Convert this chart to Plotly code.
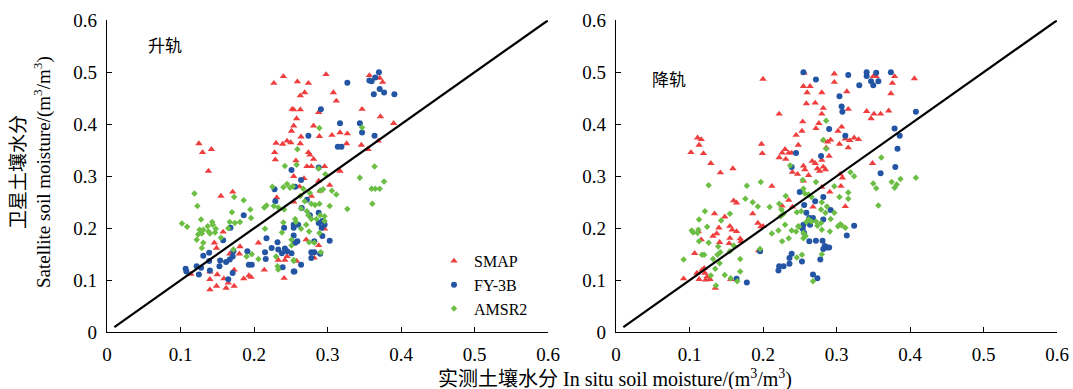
import plotly.graph_objects as go

# ---------------- data (in situ, satellite) ----------------
asc_smap = [(0.227,0.479),(0.240,0.492),(0.252,0.429),(0.254,0.397),(0.251,0.387),(0.230,0.364),(0.239,0.362),(0.245,0.368),(0.250,0.365),(0.228,0.346),(0.229,0.332),(0.125,0.363),(0.130,0.346),(0.142,0.352),(0.138,0.310),(0.171,0.270),(0.155,0.262),(0.158,0.193),(0.146,0.172),(0.149,0.162),(0.114,0.112),(0.140,0.116),(0.150,0.111),(0.140,0.102),(0.159,0.103),(0.165,0.095),(0.162,0.085),(0.173,0.089),(0.149,0.089),(0.140,0.082),(0.181,0.165),(0.180,0.151),(0.167,0.151),(0.173,0.120),(0.186,0.103),(0.196,0.106),(0.193,0.109),(0.206,0.172),(0.214,0.120),(0.241,0.104),(0.233,0.139),(0.242,0.139),(0.254,0.300),(0.231,0.259),(0.254,0.251),(0.245,0.146),
            (0.298,0.496),(0.259,0.482),(0.274,0.479),(0.269,0.461),(0.263,0.455),(0.308,0.461),(0.312,0.445),(0.254,0.428),(0.263,0.428),(0.288,0.423),(0.258,0.411),(0.357,0.494),(0.371,0.489),(0.375,0.481),(0.347,0.429),(0.372,0.415),(0.390,0.402),(0.281,0.397),(0.264,0.376),(0.289,0.377),(0.306,0.379),(0.317,0.384),(0.327,0.382),(0.263,0.363),(0.326,0.363),(0.355,0.352),(0.346,0.360),(0.369,0.368),(0.274,0.346),(0.276,0.341),(0.281,0.333),(0.272,0.319),(0.278,0.319),(0.296,0.319),(0.317,0.310),(0.257,0.330),(0.262,0.280),(0.268,0.296),(0.288,0.291),(0.303,0.283),(0.290,0.272),(0.278,0.262),(0.296,0.199),(0.288,0.167),(0.282,0.143),(0.258,0.137),(0.271,0.178)]

asc_fy3b = [(0.107,0.122),(0.108,0.117),(0.125,0.111),(0.122,0.127),(0.128,0.124),(0.131,0.147),(0.139,0.153),(0.139,0.137),(0.140,0.119),(0.153,0.127),(0.154,0.138),(0.162,0.135),(0.167,0.140),(0.171,0.146),(0.172,0.156),(0.171,0.114),(0.165,0.102),(0.168,0.201),(0.158,0.177),(0.186,0.225),(0.191,0.156),(0.193,0.130),(0.197,0.130),(0.215,0.154),(0.217,0.181),(0.232,0.173),(0.224,0.162),(0.216,0.141),(0.233,0.159),(0.238,0.152),(0.242,0.161),(0.245,0.156),(0.239,0.125),(0.251,0.152),(0.229,0.252),(0.228,0.275),(0.251,0.312),(0.254,0.201),(0.241,0.201),(0.254,0.117),
            (0.370,0.500),(0.357,0.484),(0.360,0.483),(0.365,0.490),(0.371,0.468),(0.377,0.461),(0.363,0.458),(0.391,0.458),(0.327,0.480),(0.291,0.429),(0.317,0.402),(0.344,0.402),(0.347,0.384),(0.274,0.378),(0.314,0.357),(0.319,0.357),(0.364,0.378),(0.264,0.293),(0.288,0.317),(0.256,0.280),(0.272,0.255),(0.265,0.239),(0.276,0.225),(0.288,0.230),(0.254,0.207),(0.260,0.207),(0.288,0.210),(0.293,0.214),(0.296,0.207),(0.292,0.201),(0.254,0.186),(0.259,0.175),(0.256,0.172),(0.282,0.175),(0.303,0.176),(0.278,0.154),(0.282,0.154),(0.290,0.151),(0.278,0.143),(0.264,0.130),(0.255,0.117),(0.293,0.185)]

asc_amsr2 = [(0.102,0.209),(0.109,0.203),(0.119,0.267),(0.123,0.243),(0.128,0.217),(0.126,0.197),(0.131,0.197),(0.124,0.188),(0.129,0.190),(0.122,0.178),(0.137,0.204),(0.143,0.212),(0.144,0.207),(0.138,0.194),(0.140,0.190),(0.147,0.192),(0.148,0.199),(0.155,0.182),(0.131,0.172),(0.129,0.162),(0.167,0.212),(0.165,0.200),(0.174,0.210),(0.181,0.212),(0.170,0.231),(0.173,0.260),(0.186,0.254),(0.195,0.236),(0.196,0.220),(0.172,0.159),(0.190,0.146),(0.197,0.150),(0.206,0.141),(0.215,0.199),(0.214,0.240),(0.217,0.244),(0.225,0.280),(0.227,0.243),(0.233,0.240),(0.242,0.320),(0.240,0.279),(0.245,0.285),(0.249,0.278),(0.240,0.211),(0.241,0.236),(0.230,0.146),(0.232,0.127),(0.233,0.121),(0.238,0.192),(0.251,0.178),(0.254,0.139),
             (0.289,0.393),(0.347,0.394),(0.259,0.352),(0.258,0.322),(0.288,0.315),(0.297,0.304),(0.364,0.319),(0.344,0.297),(0.377,0.290),(0.360,0.276),(0.365,0.276),(0.371,0.276),(0.361,0.247),(0.327,0.237),(0.303,0.243),(0.312,0.265),(0.306,0.272),(0.290,0.272),(0.294,0.275),(0.267,0.276),(0.276,0.268),(0.253,0.281),(0.263,0.262),(0.269,0.252),(0.278,0.247),(0.283,0.245),(0.289,0.247),(0.264,0.238),(0.272,0.233),(0.274,0.225),(0.278,0.218),(0.285,0.218),(0.290,0.225),(0.296,0.223),(0.296,0.214),(0.256,0.218),(0.257,0.212),(0.271,0.207),(0.264,0.199),(0.275,0.194),(0.289,0.191),(0.251,0.167),(0.275,0.173),(0.282,0.172),(0.291,0.154),(0.254,0.137)]

desc_smap = [(0.200,0.487),(0.222,0.420),(0.245,0.379),(0.248,0.360),(0.198,0.362),(0.199,0.344),(0.111,0.374),(0.116,0.371),(0.113,0.360),(0.102,0.346),(0.119,0.344),(0.129,0.325),(0.142,0.307),(0.159,0.315),(0.212,0.281),(0.222,0.336),(0.226,0.345),(0.230,0.352),(0.231,0.333),(0.235,0.345),(0.239,0.345),(0.240,0.308),(0.247,0.304),(0.160,0.253),(0.164,0.249),(0.186,0.228),(0.148,0.222),(0.134,0.228),(0.193,0.210),(0.197,0.203),(0.200,0.204),(0.140,0.201),(0.155,0.204),(0.158,0.197),(0.164,0.194),(0.137,0.190),(0.132,0.185),(0.112,0.194),(0.116,0.178),(0.141,0.173),(0.155,0.181),(0.154,0.171),(0.169,0.180),(0.170,0.175),(0.107,0.152),(0.092,0.103),(0.110,0.114),(0.117,0.120),(0.120,0.123),(0.121,0.114),(0.124,0.107),(0.128,0.102),(0.122,0.101),(0.113,0.102),(0.135,0.085),(0.156,0.102),(0.194,0.157),(0.226,0.243),(0.235,0.254),(0.240,0.241),
             (0.256,0.499),(0.297,0.497),(0.354,0.492),(0.350,0.492),(0.379,0.492),(0.406,0.488),(0.297,0.481),(0.255,0.473),(0.264,0.473),(0.260,0.461),(0.280,0.461),(0.314,0.463),(0.376,0.479),(0.374,0.459),(0.259,0.440),(0.271,0.441),(0.282,0.431),(0.280,0.420),(0.316,0.429),(0.341,0.425),(0.351,0.420),(0.360,0.420),(0.371,0.426),(0.347,0.411),(0.254,0.405),(0.276,0.402),(0.272,0.392),(0.253,0.387),(0.307,0.395),(0.302,0.387),(0.283,0.369),(0.288,0.366),(0.292,0.370),(0.312,0.372),(0.318,0.369),(0.324,0.374),(0.330,0.371),(0.304,0.362),(0.316,0.355),(0.286,0.355),(0.290,0.339),(0.280,0.331),(0.267,0.329),(0.271,0.325),(0.255,0.320),(0.257,0.313),(0.274,0.315),(0.282,0.318),(0.285,0.313),(0.277,0.310),(0.262,0.302),(0.305,0.304),(0.308,0.297),(0.349,0.325),(0.255,0.291),(0.280,0.279),(0.306,0.281),(0.291,0.270),(0.268,0.241),(0.312,0.242)]

desc_fy3b = [(0.245,0.345),(0.239,0.318),(0.250,0.270),(0.164,0.103),(0.178,0.096),(0.196,0.156),(0.222,0.127),(0.228,0.127),(0.221,0.119),(0.236,0.132),(0.239,0.151),(0.236,0.143),
             (0.255,0.500),(0.272,0.486),(0.316,0.495),(0.341,0.500),(0.341,0.493),(0.354,0.499),(0.374,0.500),(0.347,0.483),(0.357,0.483),(0.350,0.475),(0.331,0.475),(0.304,0.454),(0.307,0.434),(0.308,0.424),(0.408,0.424),(0.290,0.391),(0.312,0.378),(0.379,0.392),(0.386,0.378),(0.383,0.353),(0.279,0.339),(0.380,0.318),(0.360,0.306),(0.282,0.260),(0.256,0.245),(0.271,0.252),(0.292,0.235),(0.259,0.230),(0.263,0.220),(0.268,0.220),(0.282,0.217),(0.255,0.207),(0.264,0.207),(0.254,0.199),(0.256,0.191),(0.263,0.175),(0.272,0.176),(0.281,0.176),(0.324,0.205),(0.314,0.186),(0.284,0.166),(0.287,0.163),(0.290,0.163),(0.282,0.160),(0.253,0.136),(0.278,0.140),(0.268,0.111),(0.274,0.104)]

desc_amsr2 = [(0.126,0.283),(0.178,0.282),(0.197,0.289),(0.176,0.257),(0.186,0.250),(0.193,0.242),(0.209,0.241),(0.222,0.247),(0.231,0.262),(0.237,0.321),(0.121,0.233),(0.113,0.217),(0.103,0.196),(0.105,0.192),(0.112,0.197),(0.111,0.191),(0.124,0.203),(0.143,0.215),(0.155,0.228),(0.092,0.140),(0.113,0.175),(0.126,0.172),(0.117,0.149),(0.120,0.149),(0.139,0.165),(0.142,0.154),(0.138,0.149),(0.155,0.156),(0.160,0.167),(0.169,0.141),(0.141,0.133),(0.132,0.141),(0.135,0.122),(0.129,0.109),(0.148,0.110),(0.156,0.104),(0.165,0.098),(0.169,0.117),(0.136,0.090),(0.196,0.160),(0.212,0.190),(0.221,0.196),(0.226,0.175),(0.235,0.181),(0.230,0.207),(0.239,0.196),(0.245,0.194),(0.225,0.236),(0.228,0.228),(0.224,0.223),(0.248,0.204),
              (0.286,0.407),(0.282,0.370),(0.286,0.353),(0.361,0.336),(0.319,0.308),(0.324,0.300),(0.387,0.295),(0.408,0.297),(0.350,0.286),(0.354,0.277),(0.375,0.289),(0.382,0.284),(0.379,0.278),(0.357,0.244),(0.316,0.269),(0.316,0.257),(0.304,0.260),(0.297,0.281),(0.272,0.289),(0.254,0.293),(0.255,0.276),(0.257,0.267),(0.262,0.265),(0.266,0.260),(0.280,0.250),(0.287,0.242),(0.285,0.230),(0.279,0.236),(0.297,0.230),(0.292,0.218),(0.246,0.231),(0.252,0.233),(0.262,0.217),(0.259,0.212),(0.266,0.213),(0.272,0.213),(0.279,0.210),(0.274,0.205),(0.280,0.197),(0.291,0.194),(0.302,0.204),(0.307,0.206),(0.312,0.201),(0.249,0.203),(0.255,0.191),(0.258,0.185),(0.255,0.181),(0.305,0.208),(0.280,0.150),(0.253,0.149),(0.246,0.144),(0.268,0.098)]

one_to_one = [0.01, 0.6]
series_names = ["SMAP", "FY-3B", "AMSR2"]
panel_titles = ["升轨", "降轨"]
tick_vals = [0, 0.1, 0.2, 0.3, 0.4, 0.5, 0.6]
tick_text = ["0", "0.1", "0.2", "0.3", "0.4", "0.5", "0.6"]

# ---------------- style ----------------
colors = {"SMAP": "#EF3E3E", "FY-3B": "#2355A4", "AMSR2": "#6CBE45"}
symbols = {"SMAP": "triangle-up", "FY-3B": "circle", "AMSR2": "diamond"}
sizes = {"SMAP": 6.5, "FY-3B": 6, "AMSR2": 5}
SERIF = "Liberation Serif, Noto Sans CJK SC"

fig = go.Figure()
panels = [(asc_smap, asc_fy3b, asc_amsr2), (desc_smap, desc_fy3b, desc_amsr2)]
for i, data in enumerate(panels):
    xa = "x" if i == 0 else "x2"
    ya = "y" if i == 0 else "y2"
    for name, pts in zip(series_names, data):
        fig.add_trace(go.Scatter(
            x=[p[0] for p in pts], y=[p[1] for p in pts], mode="markers", name=name,
            xaxis=xa, yaxis=ya, showlegend=(i == 0), legendgroup=name,
            marker=dict(symbol=symbols[name], color=colors[name], size=sizes[name], line=dict(width=0)),
            cliponaxis=False))
    fig.add_trace(go.Scatter(x=one_to_one, y=one_to_one, mode="lines", xaxis=xa, yaxis=ya,
                             showlegend=False, line=dict(color="black", width=2.2)))

axis_common = dict(range=[0, 0.6], tickmode="array", tickvals=tick_vals, ticktext=tick_text,
                   showline=True, linecolor="black", linewidth=1.3,
                   ticks="inside", ticklen=5, tickwidth=1.2, tickcolor="black",
                   showgrid=False, zeroline=False, automargin=False,
                   tickfont=dict(family=SERIF, size=19, color="black"))

ydom = [56.7 / 389, 368.7 / 389]
fig.update_layout(
    width=1073, height=389, margin=dict(l=0, r=0, t=0, b=0, autoexpand=False),
    paper_bgcolor="white", plot_bgcolor="white",
    xaxis=dict(domain=[107 / 1073, 548 / 1073], anchor="y", ticklabelstandoff=5, **axis_common),
    yaxis=dict(domain=ydom, anchor="x", ticklabelstandoff=5, **axis_common),
    xaxis2=dict(domain=[616 / 1073, 1057 / 1073], anchor="y2", ticklabelstandoff=5, **axis_common),
    yaxis2=dict(domain=ydom, anchor="x2", ticklabelstandoff=5, **axis_common),
    legend=dict(x=434 / 1073, y=(389 - 244) / 389, xanchor="left", yanchor="top",
                font=dict(family=SERIF, size=16, color="black"),
                bgcolor="rgba(0,0,0,0)", itemwidth=30, tracegroupgap=0),
    showlegend=True,
)

fig.add_annotation(text=panel_titles[0], x=146 / 1073, y=(389 - 44) / 389, xref="paper", yref="paper",
                   xanchor="left", yanchor="middle", showarrow=False,
                   font=dict(family="Noto Sans CJK SC", size=17, color="black"))
fig.add_annotation(text=panel_titles[1], x=650 / 1073, y=(389 - 78) / 389, xref="paper", yref="paper",
                   xanchor="left", yanchor="middle", showarrow=False,
                   font=dict(family="Noto Sans CJK SC", size=17, color="black"))
fig.add_annotation(text="实测土壤水分 In situ soil moisture/(m<sup>3</sup>/m<sup>3</sup>)",
                   x=615 / 1073, y=(389 - 378) / 389, xref="paper", yref="paper",
                   xanchor="center", yanchor="middle", showarrow=False,
                   font=dict(family=SERIF, size=20, color="black"))
fig.add_annotation(text="卫星土壤水分<br>Satellite soil moisture/(m<sup>3</sup>/m<sup>3</sup>)",
                   x=31 / 1073, y=(389 - 172) / 389, xref="paper", yref="paper",
                   xanchor="center", yanchor="middle", textangle=-90, showarrow=False,
                   font=dict(family=SERIF, size=19, color="black"))

fig.write_html("out.html")
